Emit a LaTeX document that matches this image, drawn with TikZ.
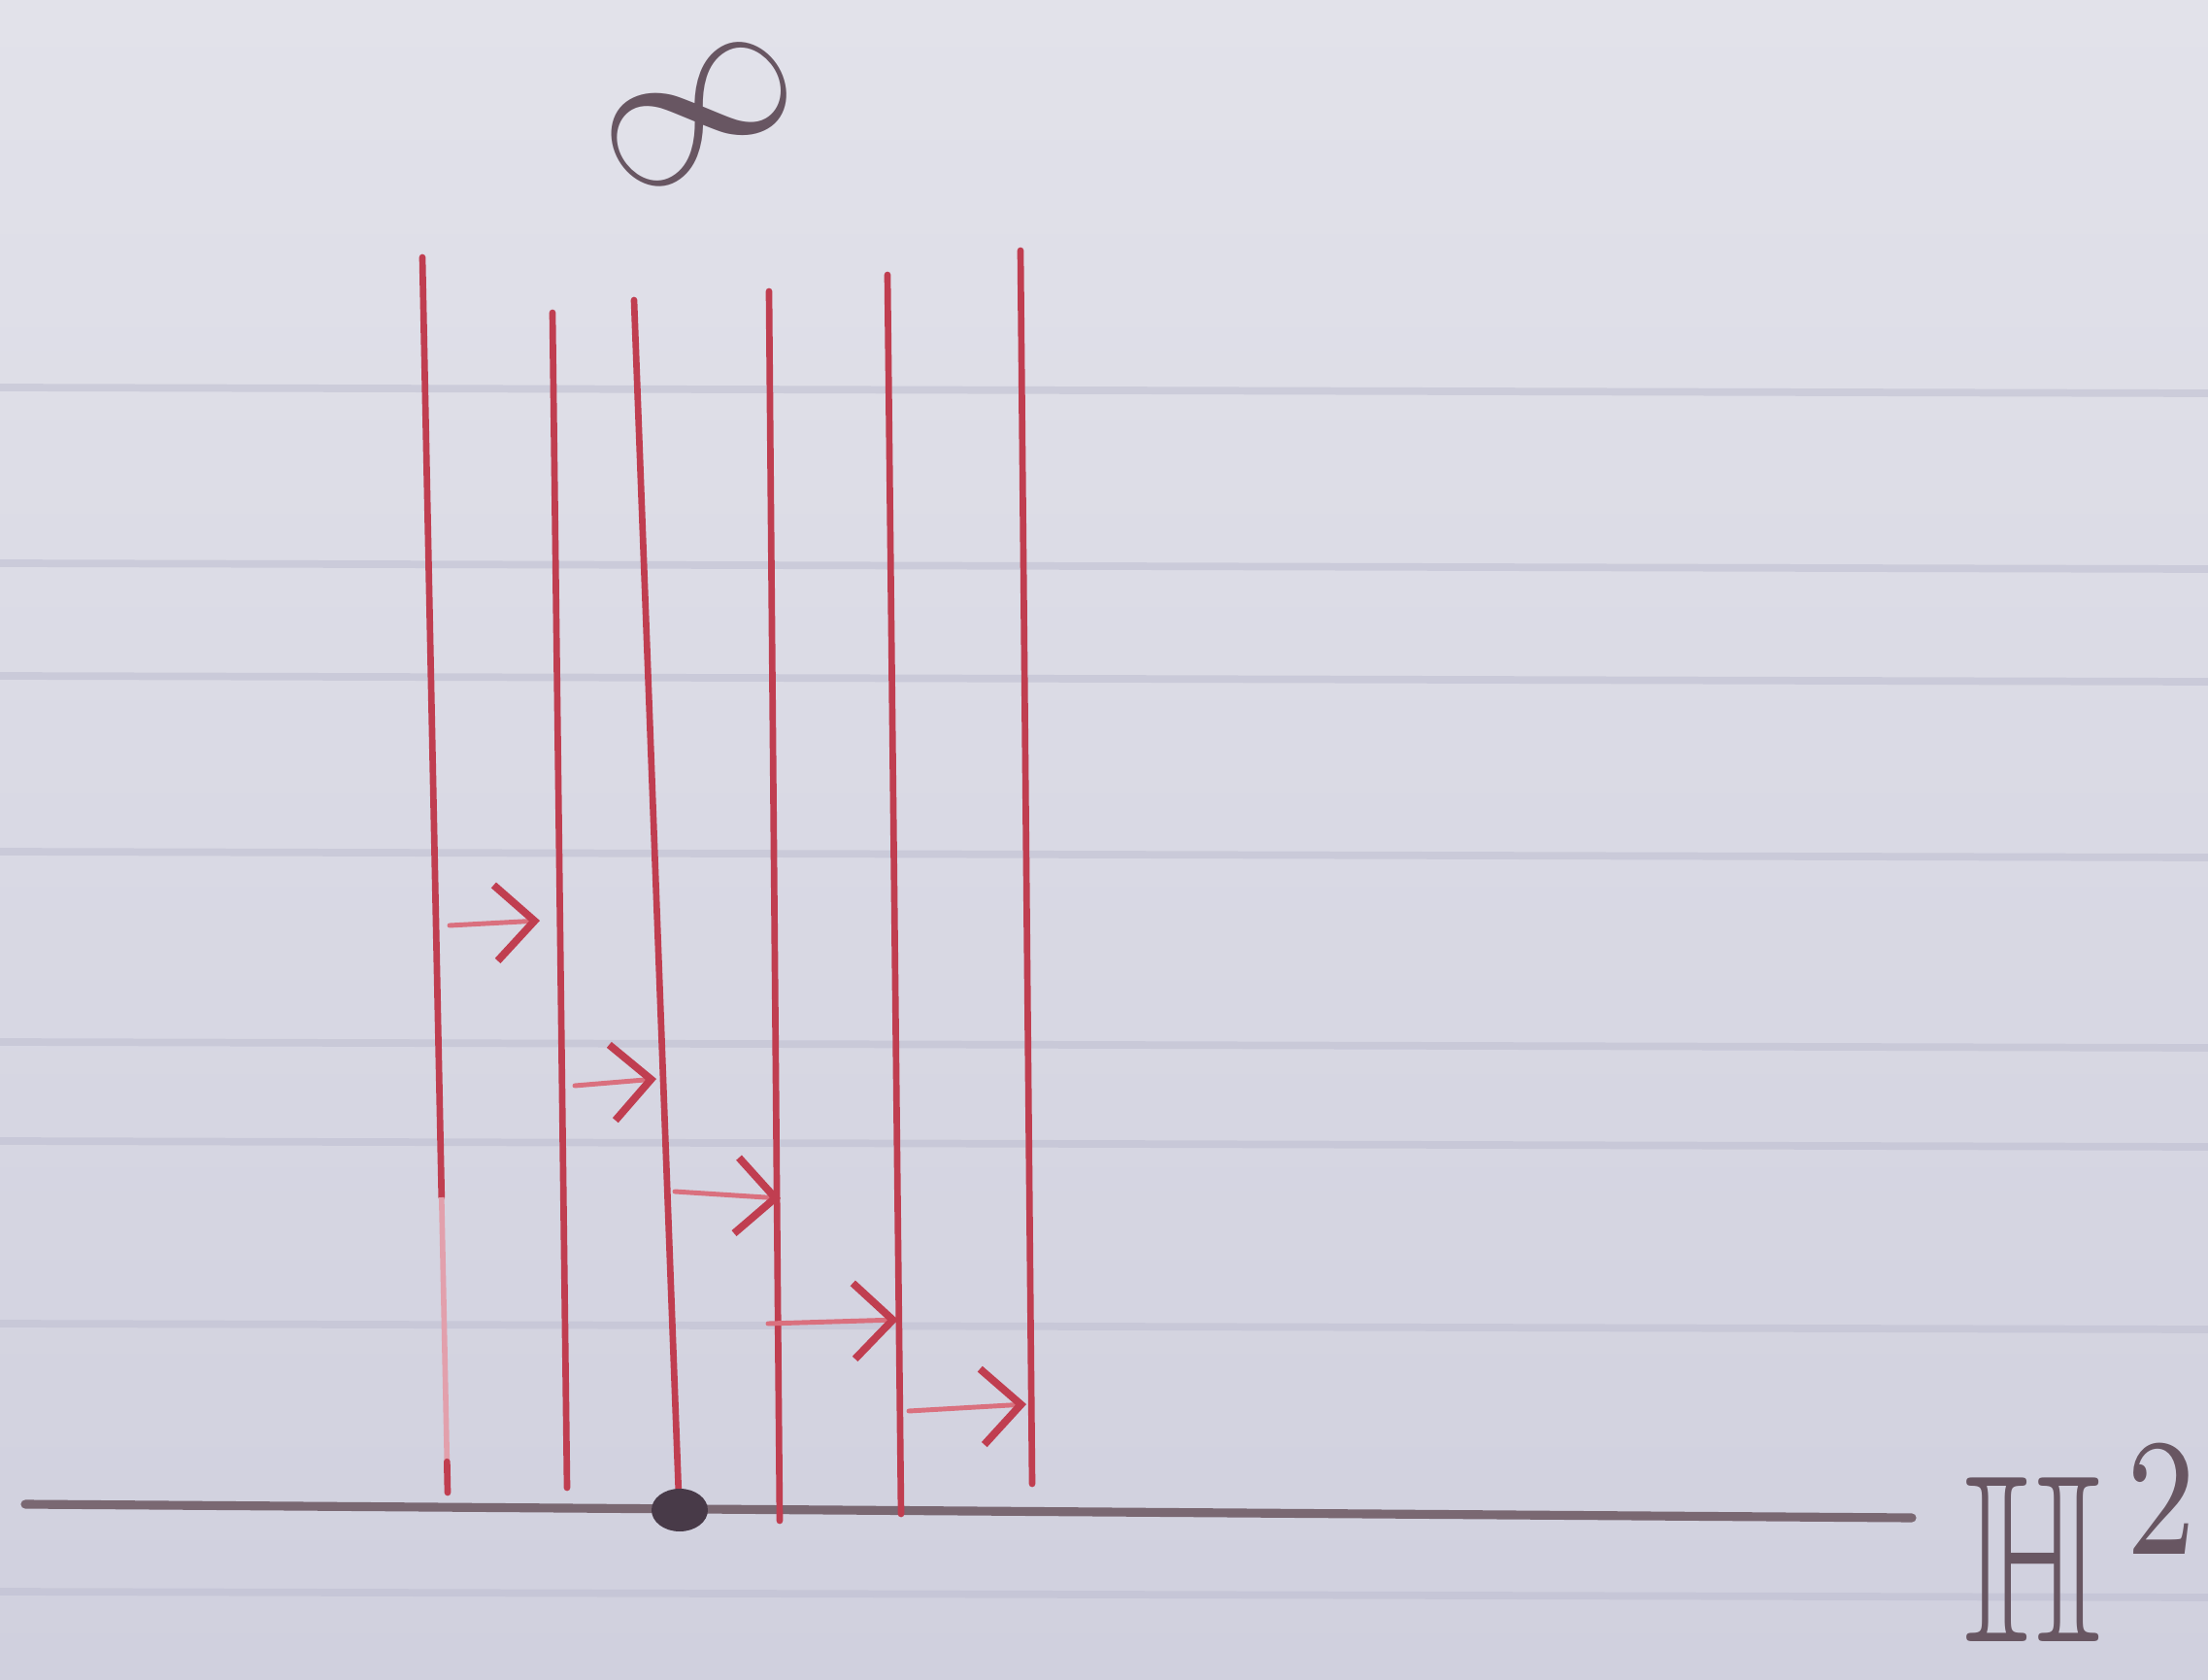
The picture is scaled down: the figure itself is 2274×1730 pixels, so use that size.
\documentclass[tikz,border=0pt]{standalone}
\usepackage{amssymb}
\usetikzlibrary{arrows.meta,calc}
\definecolor{papertop}{RGB}{226,226,234}
\definecolor{paperbot}{RGB}{208,208,222}
\definecolor{ruling}{RGB}{192,192,210}
\definecolor{redpen}{RGB}{192,62,80}
\definecolor{redlight}{RGB}{218,112,126}
\definecolor{redfade}{RGB}{226,160,172}
\definecolor{pencil}{RGB}{122,104,114}
\definecolor{ink}{RGB}{104,86,98}
\definecolor{dotink}{RGB}{72,58,72}
\begin{document}
\begin{tikzpicture}[x=0.01cm,y=-0.01cm,
  ruled/.style={draw=ruling,line width=2.2pt,opacity=0.6},
  geodesic/.style={draw=redpen,line width=1.9pt,line cap=round},
  fadeseg/.style={draw=redfade,line width=1.6pt},
  push/.style={draw=redlight,line width=1.4pt,line cap=round,
    -{Straight Barb[length=0.4cm,width=0.78cm,line width=2.2pt,color=redpen]}},
  boundary/.style={draw=pencil,line width=2.6pt,line cap=round},
  handtext/.style={text=ink,inner sep=0pt}]
\shade[top color=papertop,bottom color=paperbot] (0,0) rectangle (2274,1730);
\useasboundingbox (0,0) rectangle (2274,1730);
% ruled paper lines
\foreach \yy in {399,580,696,877,1073,1175,1363,1639}
  \draw[ruled] (0,\yy) -- (2274,\yy+6);
% endpoints of the vertical geodesics
\coordinate (l1t) at (435,265);  \coordinate (l1b) at (461,1537);
\coordinate (l2t) at (569,322);  \coordinate (l2b) at (584,1532);
\coordinate (l3t) at (653,309);  \coordinate (l3b) at (699,1540);
\coordinate (l4t) at (792,300);  \coordinate (l4b) at (803,1566);
\coordinate (l5t) at (914,283);  \coordinate (l5b) at (928,1559);
\coordinate (l6t) at (1051,258); \coordinate (l6b) at (1063,1528);
% boundary line
\coordinate (bl) at (26,1549);
\coordinate (br) at (1969,1563);
\draw[boundary] (bl) -- (br);
% geodesics
\draw[geodesic] (l1t) -- ($(l1t)!0.761!(l1b)$);
\draw[fadeseg] ($(l1t)!0.761!(l1b)$) -- ($(l1t)!0.975!(l1b)$);
\draw[geodesic] ($(l1t)!0.975!(l1b)$) -- (l1b);
\draw[geodesic] (l2t) -- (l2b);
\draw[geodesic] (l3t) -- (l3b);
\draw[geodesic] (l4t) -- (l4b);
\draw[geodesic] (l5t) -- (l5b);
\draw[geodesic] (l6t) -- (l6b);
% arrows between the geodesics
\coordinate (a1s) at (463,953);  \coordinate (a1e) at (556,948);
\coordinate (a2s) at (592,1118); \coordinate (a2e) at (676,1111);
\coordinate (a3s) at (695,1227); \coordinate (a3e) at (804,1234);
\coordinate (a4s) at (791,1363); \coordinate (a4e) at (925,1359);
\coordinate (a5s) at (936,1453); \coordinate (a5e) at (1057,1446);
\draw[push] (a1s) -- (a1e);
\draw[push] (a2s) -- (a2e);
\draw[push] (a3s) -- (a3e);
\draw[push] (a4s) -- (a4e);
\draw[push] (a5s) -- (a5e);
% point on the boundary
\fill[dotink] (700,1555) ellipse [x radius=29, y radius=22];
% labels
\node[handtext] (inf) at (720,118) {\rotatebox{30}{\scalebox{6.1}{$\infty$}}};
\node[handtext,anchor=base west] (h2) at (2022,1690) {\scalebox{5.2}[7]{$\mathbb{H}^{\,2}$}};
\end{tikzpicture}
\end{document}
